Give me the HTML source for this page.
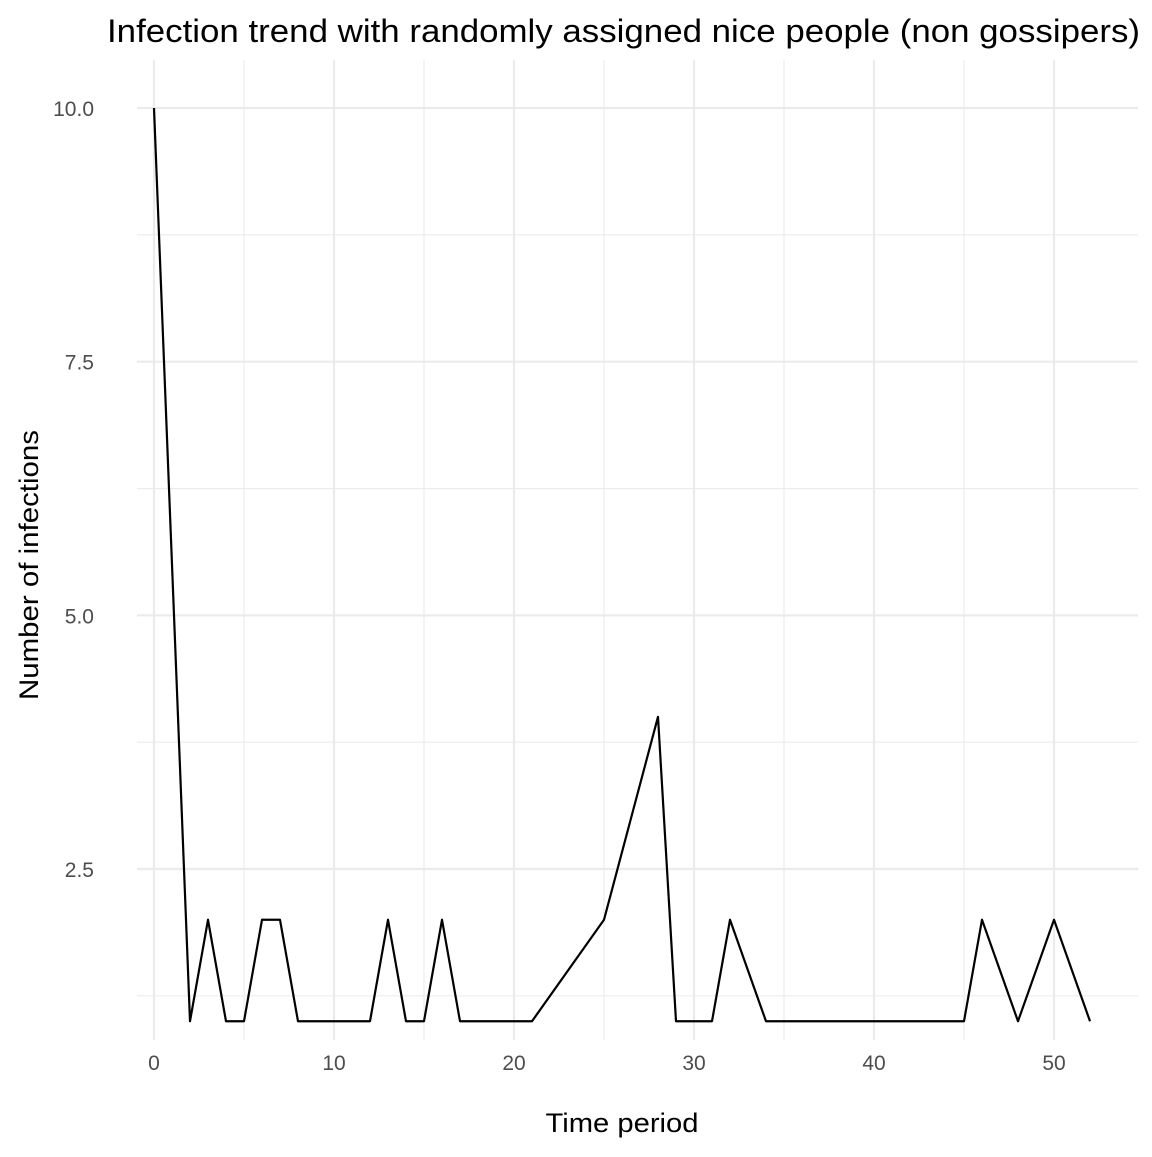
<!DOCTYPE html>
<html><head><meta charset="utf-8"><style>
body{margin:0;background:#fff;font-family:"Liberation Sans",Arial,sans-serif;}
svg text{font-family:"Liberation Sans",Arial,sans-serif;}
</style></head><body>
<svg id="chart" width="1152" height="1152" xmlns="http://www.w3.org/2000/svg">
<rect width="1152" height="1152" fill="#fff"/>
<g id="grid"></g>
<g id="axes"></g>
<path id="line" fill="none" stroke="#000" stroke-width="2.2" stroke-linejoin="round"/>
<text x="107" y="42" font-size="32" textLength="1033" lengthAdjust="spacingAndGlyphs" fill="#000">Infection trend with randomly assigned nice people (non gossipers)</text>
<text x="622" y="1132" font-size="27" textLength="153" lengthAdjust="spacingAndGlyphs" text-anchor="middle" fill="#000">Time period</text>
<text transform="translate(38,565) rotate(-90)" font-size="27" textLength="270" lengthAdjust="spacingAndGlyphs" text-anchor="middle" fill="#000">Number of infections</text>
</svg>
<script>
const periods=[0,2,3,4,5,6,7,8,12,13,14,15,16,17,21,25,28,29,31,32,34,45,46,48,50,52];
const infections=[10,1,2,1,1,2,2,1,1,2,1,1,2,1,1,2,4,1,1,2,1,1,2,1,2,1];
const xTicks=[0,10,20,30,40,50];
const xMinor=[5,15,25,35,45];
const yTicks=[2.5,5.0,7.5,10.0];
const yMinor=[1.25,3.75,6.25,8.75];
const X=v=>154+v*18;
const Y=v=>108+(10-v)*101.47;
const ns="http://www.w3.org/2000/svg";
const grid=document.getElementById('grid'),axes=document.getElementById('axes');
function ln(x1,y1,x2,y2,w,name){const l=document.createElementNS(ns,'line');
l.setAttribute('x1',x1);l.setAttribute('y1',y1);l.setAttribute('x2',x2);l.setAttribute('y2',y2);
l.setAttribute('stroke','#ebebeb');l.setAttribute('stroke-width',w);


grid.appendChild(l);}
function tx(x,y,s,anchor,name){const t=document.createElementNS(ns,'text');
t.setAttribute('x',x);t.setAttribute('y',y);t.setAttribute('font-size','21');t.setAttribute('fill','#4d4d4d');t.setAttribute('text-anchor',anchor);t.textContent=s;


axes.appendChild(t);}
yMinor.forEach(v=>ln(137,Y(v),1138,Y(v),1.1,'y-minor-gridline'));
xMinor.forEach(v=>ln(X(v),60,X(v),1040,1.1,'x-minor-gridline'));
yTicks.forEach(v=>{ln(137,Y(v),1138,Y(v),2.2,'y-major-gridline');tx(94,Y(v)+8,v.toFixed(1),'end','y-tick-label');});
xTicks.forEach(v=>{ln(X(v),60,X(v),1040,2.2,'x-major-gridline');tx(X(v),1070,String(v),'middle','x-tick-label');});
document.getElementById('line').setAttribute('d',periods.map((p,i)=>(i?'L':'M')+X(p)+','+Y(infections[i])).join(''));
</script>
</body></html>
